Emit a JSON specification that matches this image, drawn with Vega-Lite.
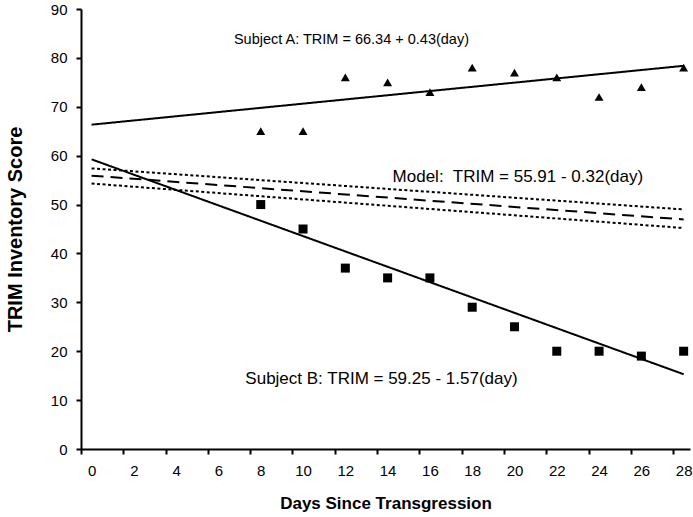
{
  "$schema": "https://vega.github.io/schema/vega-lite/v6.json",
  "autosize": "none",
  "width": 609,
  "height": 440,
  "padding": {"left": 81, "top": 9, "right": 3, "bottom": 68},
  "background": "white",
  "config": {
    "view": {"stroke": null},
    "font": "Liberation Sans",
    "axis": {
      "grid": false,
      "domainColor": "black",
      "domainWidth": 2,
      "tickColor": "black",
      "tickWidth": 2,
      "tickSize": 5,
      "labelColor": "black",
      "labelFont": "Liberation Sans",
      "labelFontSize": 15,
      "titleColor": "black",
      "titleFont": "Liberation Sans",
      "titleFontWeight": "bold"
    }
  },
  "datasets": {
    "points": [
      {"subject": "Subject A", "day": 8, "score": 65},
      {"subject": "Subject A", "day": 10, "score": 65},
      {"subject": "Subject A", "day": 12, "score": 76},
      {"subject": "Subject A", "day": 14, "score": 75},
      {"subject": "Subject A", "day": 16, "score": 73},
      {"subject": "Subject A", "day": 18, "score": 78},
      {"subject": "Subject A", "day": 20, "score": 77},
      {"subject": "Subject A", "day": 22, "score": 76},
      {"subject": "Subject A", "day": 24, "score": 72},
      {"subject": "Subject A", "day": 26, "score": 74},
      {"subject": "Subject A", "day": 28, "score": 78},
      {"subject": "Subject B", "day": 8, "score": 50},
      {"subject": "Subject B", "day": 10, "score": 45},
      {"subject": "Subject B", "day": 12, "score": 37},
      {"subject": "Subject B", "day": 14, "score": 35},
      {"subject": "Subject B", "day": 16, "score": 35},
      {"subject": "Subject B", "day": 18, "score": 29},
      {"subject": "Subject B", "day": 20, "score": 25},
      {"subject": "Subject B", "day": 22, "score": 20},
      {"subject": "Subject B", "day": 24, "score": 20},
      {"subject": "Subject B", "day": 26, "score": 19},
      {"subject": "Subject B", "day": 28, "score": 20}
    ],
    "lines": [
      {"series": "Subject A fit", "day": 0, "score": 66.34},
      {"series": "Subject A fit", "day": 28, "score": 78.38},
      {"series": "Subject B fit", "day": 0, "score": 59.25},
      {"series": "Subject B fit", "day": 28, "score": 15.29},
      {"series": "Model", "day": 0, "score": 55.91},
      {"series": "Model", "day": 28, "score": 46.95},
      {"series": "Model upper", "day": 0, "score": 57.4},
      {"series": "Model upper", "day": 28, "score": 49.0},
      {"series": "Model lower", "day": 0, "score": 54.3},
      {"series": "Model lower", "day": 28, "score": 45.2}
    ],
    "labels": [
      {"label": "A", "text": "Subject A: TRIM = 66.34 + 0.43(day)", "day": 12.29, "score": 83.6},
      {"label": "Model", "text": "Model:\u00a0 TRIM = 55.91 - 0.32(day)", "day": 20.16, "score": 55.6},
      {"label": "B", "text": "Subject B: TRIM = 59.25 - 1.57(day)", "day": 13.71, "score": 14.3}
    ]
  },
  "encoding": {
    "x": {
      "field": "day",
      "type": "quantitative",
      "scale": {"domain": [-0.5, 28.3], "nice": false, "zero": false},
      "axis": {
        "title": "Days Since Transgression",
        "titleFontSize": 17,
        "titlePadding": 17,
        "values": [0, 2, 4, 6, 8, 10, 12, 14, 16, 18, 20, 22, 24, 26, 28],
        "tickOffset": -10.56,
        "labelOffset": 10.56,
        "labelPadding": 9,
        "labelFlush": false,
        "labelOverlap": false
      }
    },
    "y": {
      "field": "score",
      "type": "quantitative",
      "scale": {"domain": [0, 90], "nice": false},
      "axis": {
        "title": "TRIM Inventory Score",
        "titleFontSize": 20,
        "titlePadding": 25,
        "values": [0, 10, 20, 30, 40, 50, 60, 70, 80, 90],
        "labelPadding": 9
      }
    }
  },
  "layer": [
    {
      "data": {"name": "lines"},
      "mark": {"type": "line", "color": "black"},
      "encoding": {
        "detail": {"field": "series"},
        "strokeDash": {
          "field": "series",
          "type": "nominal",
          "scale": {
            "domain": ["Subject A fit", "Subject B fit", "Model", "Model upper", "Model lower"],
            "range": [[1, 0], [1, 0], [12, 7], [3, 2.5], [3, 2.5]]
          },
          "legend": null
        },
        "strokeWidth": {
          "field": "series",
          "type": "nominal",
          "scale": {
            "domain": ["Subject A fit", "Subject B fit", "Model", "Model upper", "Model lower"],
            "range": [2, 2, 3.2, 3, 3]
          },
          "legend": null
        }
      }
    },
    {
      "data": {"name": "points"},
      "mark": {"type": "point", "filled": true, "color": "black", "opacity": 1},
      "encoding": {
        "shape": {
          "field": "subject",
          "type": "nominal",
          "scale": {"domain": ["Subject A", "Subject B"], "range": ["triangle-up", "square"]},
          "legend": null
        },
        "size": {
          "field": "subject",
          "type": "nominal",
          "scale": {"domain": ["Subject A", "Subject B"], "range": [80, 81]},
          "legend": null
        }
      }
    },
    {
      "data": {"name": "labels"},
      "transform": [{"filter": "datum.label === 'A'"}],
      "mark": {"type": "text", "font": "Liberation Sans", "fontSize": 14.5, "color": "black", "align": "center", "baseline": "middle"},
      "encoding": {"text": {"field": "text"}}
    },
    {
      "data": {"name": "labels"},
      "transform": [{"filter": "datum.label !== 'A'"}],
      "mark": {"type": "text", "font": "Liberation Sans", "fontSize": 17, "color": "black", "align": "center", "baseline": "middle"},
      "encoding": {"text": {"field": "text"}}
    }
  ]
}
